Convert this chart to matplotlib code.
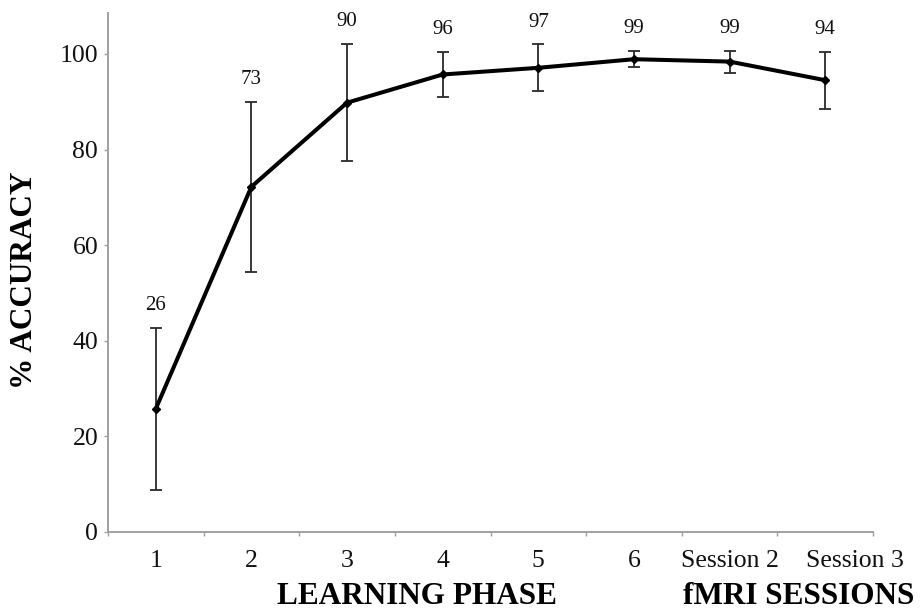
import numpy as np
import matplotlib
matplotlib.use("Agg")
import matplotlib.pyplot as plt
import matplotlib.transforms as mtransforms

# data
categories = ["1", "2", "3", "4", "5", "6", "Session 2", "Session 3"]
accuracy = [25.7, 72.2, 89.8, 95.7, 97.1, 98.9, 98.4, 94.5]
sem = [17.0, 17.8, 12.3, 4.7, 4.9, 1.7, 2.3, 6.0]
value_labels = ["26", "73", "90", "96", "97", "99", "99", "94"]
yticks = [0, 20, 40, 60, 80, 100]

plt.rcParams['font.family'] = ['Liberation Serif', 'DejaVu Serif']

fig = plt.figure(figsize=(9.22, 6.12), dpi=100)
ax = fig.add_axes([0.117, 0.131, 0.830, 0.848])

x = np.arange(len(categories))
ax.errorbar(x, accuracy, yerr=sem, fmt='none', ecolor='#2a2a2a',
            elinewidth=1.3, capsize=4.5, capthick=1.3, zorder=2)
ax.plot(x, accuracy, color='black', linewidth=2.9, marker='D',
        markersize=4.5, zorder=3)

for xi, m, e, lab in zip(x, accuracy, sem, value_labels):
    ax.annotate(lab, (xi, m + e), xytext=(0, 16), textcoords='offset points',
                ha='center', va='center', fontsize=15, color='#111111')

ax.set_xlim(-0.5, len(categories) - 0.5)
ax.set_ylim(0, 108.6)
ax.set_yticks(yticks)
ax.set_xticks(x)
ax.set_xticklabels(categories)
ax.set_xticks(np.arange(len(categories) + 1) - 0.5, minor=True)

for s in ['top', 'right']:
    ax.spines[s].set_visible(False)
for s in ['left', 'bottom']:
    ax.spines[s].set_color('#a0a0a0')
    ax.spines[s].set_linewidth(1.4)

ax.tick_params(axis='y', length=3, color='#a0a0a0', width=1, pad=4,
               labelsize=18.5, labelcolor='#111111')
ax.tick_params(axis='x', which='major', length=0, pad=13,
               labelsize=18.5, labelcolor='#111111')
ax.tick_params(axis='x', which='minor', length=3, color='#a0a0a0', width=1)

# last tick label sits a bit to the right in the original
last = ax.get_xticklabels()[-1]
last.set_transform(last.get_transform() +
                   mtransforms.ScaledTranslation(0.3, 0, fig.dpi_scale_trans))

fig.text(0.027, 0.542, "% ACCURACY", rotation=90, ha='center', va='center',
         fontsize=22.5, fontweight='bold')
fig.text(0.452, 0.025, "LEARNING PHASE", ha='center', va='center',
         fontsize=22.5, fontweight='bold')
fig.text(0.866, 0.025, "fMRI SESSIONS", ha='center', va='center',
         fontsize=22.5, fontweight='bold')

fig.savefig("out.png", dpi=100)
